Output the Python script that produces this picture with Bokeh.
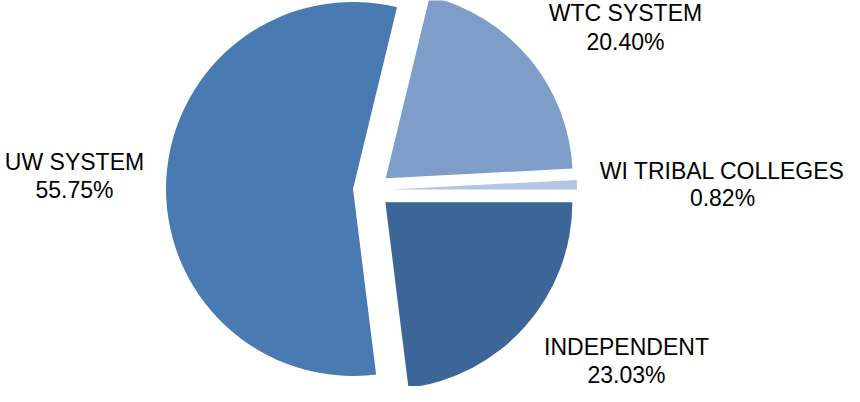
import math
from bokeh.plotting import figure
from bokeh.models import Range1d
from bokeh.core.properties import value
from bokeh.embed import file_html
from bokeh.resources import INLINE

# ---- data ----
categories = ["WI TRIBAL COLLEGES", "WTC SYSTEM", "UW SYSTEM", "INDEPENDENT"]
shares = [0.82, 20.40, 55.75, 23.03]
colors = ["#B4C5E1", "#7F9DC9", "#4A7AB2", "#3D6698"]

# ---- layout (reference pixel coordinates, y downward) ----
W, H = 844, 386
OX, OY = -8, -10          # shift so the whole drawing fits the frame
TEXT_DY = -8              # baseline correction for the text glyph
CX, CY = 379, 199.5
RADIUS = 187
EXPLODE = 18.5
label_pos = {
    "WI TRIBAL COLLEGES": (730, 188, 215),
    "WTC SYSTEM": (633, 30, 59),
    "UW SYSTEM": (82, 179, 207),
    "INDEPENDENT": (634, 364, 392),
}

def fx(px):
    return px + OX

def fy(py):
    return H - (py + OY)

p = figure(width=W, height=H, output_backend="svg", toolbar_location=None,
           x_range=Range1d(0, W), y_range=Range1d(0, H),
           x_axis_type=None, y_axis_type=None, min_border=0)
p.outline_line_color = None
p.background_fill_color = "white"
p.border_fill_color = "white"
p.grid.visible = False

total = sum(shares)
start = 0.0
xs, ys, sa, ea = [], [], [], []
for s in shares:
    span = s / total * 2 * math.pi
    mid = start + span / 2
    xs.append(fx(CX) + EXPLODE * math.cos(mid))
    ys.append(fy(CY) + EXPLODE * math.sin(mid))
    sa.append(start)
    ea.append(start + span)
    start += span

p.wedge(x=xs, y=ys, radius=RADIUS, start_angle=sa, end_angle=ea,
        fill_color=colors, line_color=None)

lx, ly1, ly2, names, pcts = [], [], [], [], []
for c, s in zip(categories, shares):
    x, b1, b2 = label_pos[c]
    lx.append(fx(x))
    ly1.append(fy(b1 + TEXT_DY))
    ly2.append(fy(b2 + TEXT_DY))
    names.append(c)
    pcts.append(f"{s:.2f}%")

for yy, tt in ((ly1, names), (ly2, pcts)):
    p.text(x=lx, y=yy, text=tt, text_font=value("Liberation Sans"),
           text_font_size="23px", text_color="#000000",
           text_align="center", text_baseline="alphabetic")

open("out.html", "w").write(file_html(p, INLINE))
